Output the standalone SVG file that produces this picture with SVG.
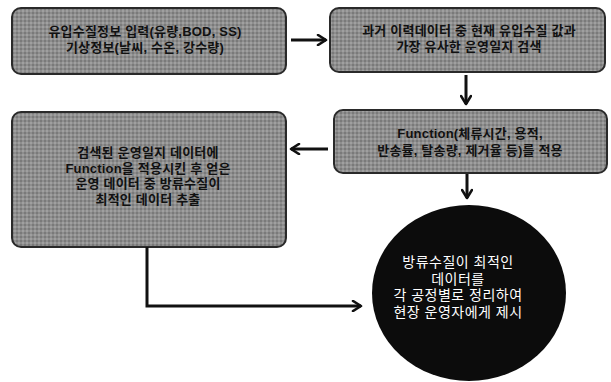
<svg xmlns="http://www.w3.org/2000/svg" width="611" height="382" viewBox="0 0 611 382">
  <defs>
    <marker id="head" viewBox="0 0 12 12" refX="10" refY="6" markerWidth="12" markerHeight="12" markerUnits="userSpaceOnUse" orient="auto">
      <path d="M2,1 L10,6 L2,11" fill="none" stroke="#111" stroke-width="2.6" stroke-linecap="round" stroke-linejoin="round"/>
    </marker>
    <pattern id="grain" width="4" height="4" patternUnits="userSpaceOnUse">
      <rect width="4" height="4" fill="#8e8e8e"/>
      <rect width="2" height="2" fill="#7a7a7a"/>
      <rect x="2" y="2" width="2" height="2" fill="#a0a0a0"/>
    </pattern>
  </defs>
  <style>
    .box { fill: url(#grain); stroke: #2a2a2a; stroke-width: 2; }
    .t { font-family: "Liberation Sans", "Noto Sans CJK KR", sans-serif; font-size: 13px; font-weight: bold; fill: #111; text-anchor: middle; letter-spacing: 0.2px; }
    .tw { font-family: "Liberation Sans", "Noto Sans CJK KR", sans-serif; font-size: 14px; fill: #fff; text-anchor: middle; letter-spacing: 0.5px; }
    .edge { fill: none; stroke: #111; stroke-width: 3; marker-end: url(#head); }
  </style>
  <rect width="611" height="382" fill="#fff"/>

  <g id="input">
    <rect class="box" x="12" y="8" width="274" height="66" rx="9"/>
    <text class="t" x="145" y="36">유입수질정보 입력(유량,BOD, SS)</text>
    <text class="t" x="145" y="52">기상정보(날씨, 수온, 강수량)</text>
  </g>

  <g id="search">
    <rect class="box" x="330" y="8" width="275" height="64" rx="9"/>
    <text class="t" x="469" y="35">과거 이력데이터 중 현재 유입수질 값과</text>
    <text class="t" x="469" y="51">가장 유사한 운영일지 검색</text>
  </g>

  <g id="function">
    <rect class="box" x="334" y="110" width="273" height="63" rx="9"/>
    <text class="t" x="470" y="138">Function(체류시간, 용적,</text>
    <text class="t" x="470" y="155">반송률, 탈송량, 제거율 등)를 적용</text>
  </g>

  <g id="extract">
    <rect class="box" x="12" y="112" width="274" height="135" rx="9"/>
    <text class="t" x="148" y="157">검색된 운영일지 데이터에</text>
    <text class="t" x="148" y="172.5">Function을 적용시킨 후 얻은</text>
    <text class="t" x="148" y="188">운영 데이터 중 방류수질이</text>
    <text class="t" x="148" y="203.5">최적인 데이터 추출</text>
  </g>

  <g id="present">
    <ellipse cx="469" cy="293" rx="97" ry="88" fill="#0c0c0c"/>
    <text class="tw" x="458" y="267">방류수질이 최적인</text>
    <text class="tw" x="458" y="283.5">데이터를</text>
    <text class="tw" x="458" y="300">각 공정별로 정리하여</text>
    <text class="tw" x="458" y="316.5">현장 운영자에게 제시</text>
  </g>

  <g id="connectors">
    <path class="edge" d="M291,40 L326,40"/>
    <path class="edge" d="M466,75 L466,104"/>
    <path class="edge" d="M328,149 L291,149"/>
    <path class="edge" d="M467,174 L467,198"/>
    <path class="edge" d="M147,247 L147,306 L361,306"/>
  </g>
</svg>
